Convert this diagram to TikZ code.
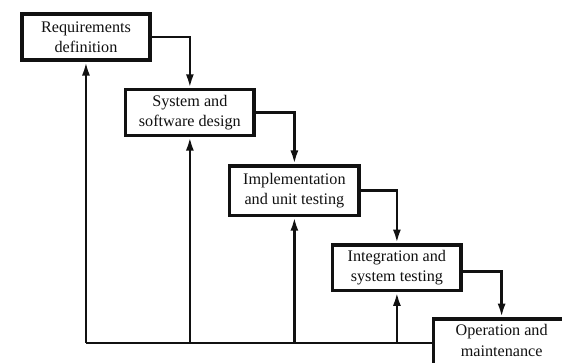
\documentclass[tikz,border=0pt]{standalone}
\usepackage{fontspec}
\setmainfont{Liberation Serif}
\usepackage{xcolor}
\usepackage{tikz}
\usetikzlibrary{positioning,arrows.meta,calc}
\definecolor{waterInk}{HTML}{111111}
\tikzset{
  phasebox/.style={draw=waterInk,fill=white,line width=2.5pt,align=center,
    minimum width=3.21cm,minimum height=1.16cm,inner sep=2pt,
    font=\fontsize{11.5}{14.5}\selectfont,text=waterInk,anchor=north west},
  phasearrow/.style={-{Latex[length=3.4mm,width=2mm]},line width=1.8pt,draw=waterInk},
  phaseline/.style={line width=1.8pt,draw=waterInk}
}

\begin{document}
\begin{tikzpicture}
    \useasboundingbox (0,0) rectangle (14.05,9.075);
    \node[phasebox] (requirements) at (0.5,8.775) {Requirements\\definition};
    \node[phasebox,minimum height=1.14cm] (design) at ([shift={(-0.7,-0.65)}]requirements.south east)
      {System and\\software design};
    \node[phasebox,minimum width=3.24cm,minimum height=1.24cm] (implementation) at ([shift={(-0.7,-0.675)}]design.south east)
      {Implementation\\and unit testing};
    \node[phasebox,minimum height=1.14cm] (integration) at ([shift={(-0.75,-0.65)}]implementation.south east)
      {Integration and\\system testing};
    \node[phasebox,minimum width=3.4cm,inner ysep=4pt] (operation) at ([shift={(-0.775,-0.625)}]integration.south east)
      {Operation and\\maintenance\\[6mm]\mbox{}};
    \draw[phasearrow] (requirements.east) -| (design.north);
    \draw[phasearrow] (design.east) -| (implementation.north);
    \draw[phasearrow] (implementation.east) -| (integration.north);
    \draw[phasearrow] ([yshift=-1mm]integration.east) -| (operation.north);
    % feedback from operation back to every phase
    \coordinate (feedback) at (0,0.5);
    \draw[phaseline] (requirements.south |- feedback) -- (operation.west |- feedback);
    \foreach \phase in {requirements,design,implementation,integration}
      \draw[phasearrow] (\phase.south |- feedback) -- (\phase.south);
\end{tikzpicture}
\end{document}
